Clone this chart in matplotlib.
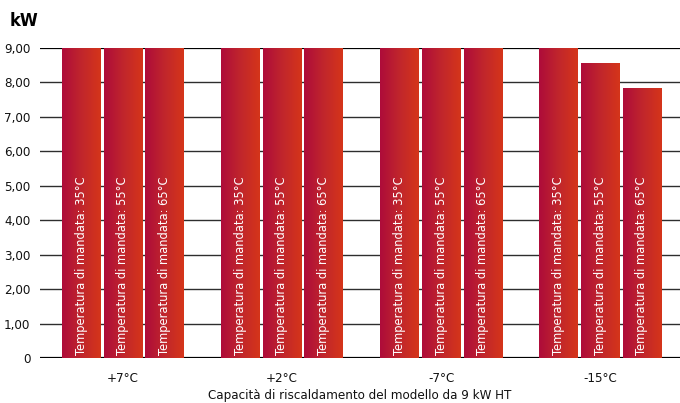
import numpy as np
import matplotlib
matplotlib.use("Agg")
import matplotlib.pyplot as plt
from matplotlib import font_manager
from matplotlib.colors import LinearSegmentedColormap

# Data
groups = ["+7°C", "+2°C", "-7°C", "-15°C"]
series = ["Temperatura di mandata: 35°C",
          "Temperatura di mandata: 55°C",
          "Temperatura di mandata: 65°C"]
values = [
    [9.00, 9.00, 9.00, 9.00],   # 35 °C
    [9.00, 9.00, 9.00, 8.55],   # 55 °C
    [9.00, 9.00, 9.00, 7.85],   # 65 °C
]
yticks = [0, 1, 2, 3, 4, 5, 6, 7, 8, 9]
ytick_labels = ["0", "1,00", "2,00", "3,00", "4,00", "5,00", "6,00", "7,00", "8,00", "9,00"]
xlabel = "Capacità di riscaldamento del modello da 9 kW HT"
unit = "kW"

# Pick a narrow font if available
names = {f.name for f in font_manager.fontManager.ttflist}
if "Liberation Sans Narrow" in names:
    fam = ["Liberation Sans Narrow", "DejaVu Sans"]
    stretch = "normal"
else:
    fam = ["DejaVu Sans"]
    stretch = "condensed"
plt.rcParams["font.family"] = fam

fig = plt.figure(figsize=(6.8, 4.03), dpi=100)
ax = fig.add_axes([0.0588, 0.1117, 0.9412, 0.7692])

n_series = len(series)
x = np.arange(len(groups))
width = 0.245
step = 0.264

cmap = LinearSegmentedColormap.from_list("bar", ["#ae0c3a", "#c0262c", "#d5351a"])
grad = np.linspace(0, 1, 64).reshape(1, -1)

for i, (name, vals) in enumerate(zip(series, values)):
    pos = x + (i - (n_series - 1) / 2) * step
    bars = ax.bar(pos, vals, width=width, color="#c0242c", zorder=2, linewidth=0)
    for b, v in zip(bars, vals):
        x0, y0 = b.get_x(), b.get_y()
        im = ax.imshow(grad, cmap=cmap, aspect="auto", zorder=2.5,
                       extent=[x0, x0 + b.get_width(), y0, y0 + b.get_height()],
                       interpolation="bilinear")
        im.set_clip_path(b)
        ax.text(x0 + b.get_width() / 2, 0.08, name, rotation=90, ha="center",
                va="bottom", color="white", fontsize=9.2,
                fontstretch=stretch, zorder=4)

ax.set_xlim(-0.522, 3.503)
ax.set_ylim(0, 9)

# Horizontal gridlines
for t in yticks:
    if t in (0, 9):
        ax.axhline(t, color="black", lw=1.6, zorder=1)
    else:
        ax.axhline(t, color="#2e2e2e", lw=1.0, zorder=1)

for s in ax.spines.values():
    s.set_visible(False)

ax.set_yticks(yticks)
ax.set_yticklabels(ytick_labels, fontsize=9.5, fontstretch=stretch, color="#111111")
ax.tick_params(axis="y", length=0, pad=7)
ax.set_xticks(x)
ax.set_xticklabels(groups, fontsize=9.5, fontstretch=stretch, color="#111111")
ax.tick_params(axis="x", length=0, pad=10)
ax.set_xlabel(xlabel, fontsize=9.5, fontstretch=stretch, labelpad=3, color="#111111")

fig.text(10 / 680, 1 - 21 / 403, unit, fontsize=13, fontweight="bold",
         fontstretch=stretch, va="center", ha="left")

fig.savefig("out.png", dpi=100)
